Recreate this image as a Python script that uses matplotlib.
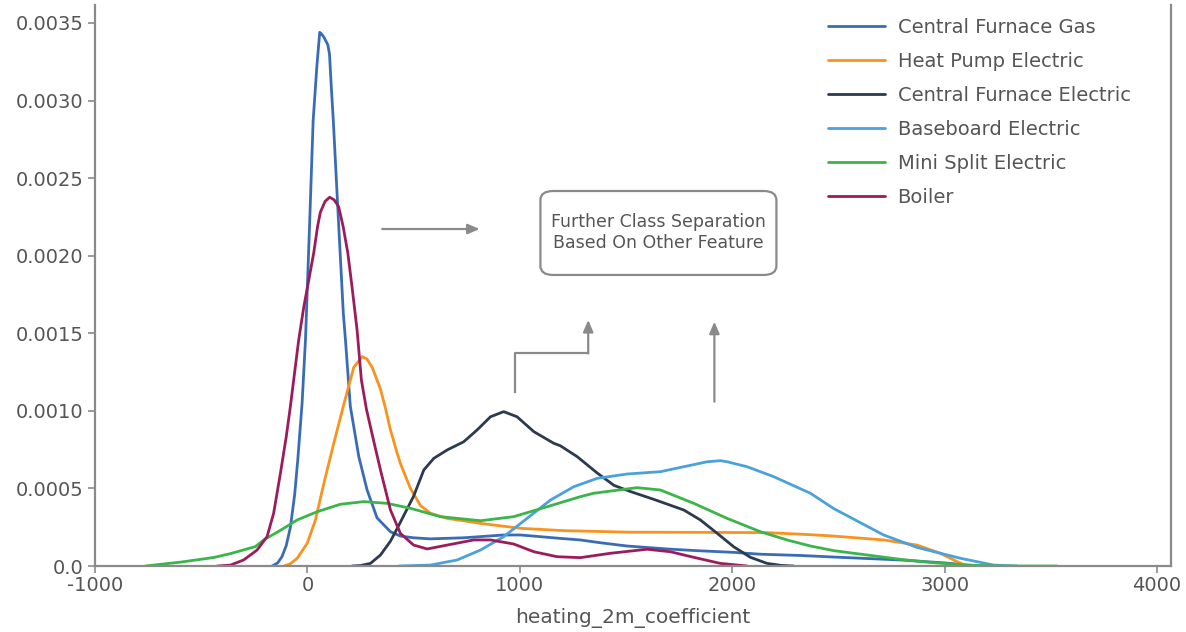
import matplotlib
matplotlib.use("Agg")
from matplotlib import pyplot as plt
from matplotlib.patches import FancyBboxPatch
import numpy as np

# curves (x, density in units of 1e-4)
gas_x = [-166, -140, -120, -100, -80, -60, -45, -25, -9, 11, 27, 45, 58, 66, 77, 96, 104, 112, 122, 146,
         169, 179, 202, 242, 281, 328, 391, 438, 500, 579, 736, 924, 1003, 1097, 1191, 1285, 1379, 1505,
         1693, 1819, 2006, 2133, 2321, 2476, 2792, 3000, 3106, 3183]
gas_y = [0.0, 0.2, 0.6, 1.3, 2.5, 4.6, 6.9, 10.5, 14.6, 22.3, 28.7, 32.3, 34.4, 34.3, 34.1, 33.6, 33.0,
         31.0, 28.7, 22.3, 16.3, 14.6, 10.3, 7.05, 4.9, 3.1, 2.21, 1.93, 1.82, 1.75, 1.82, 2.0, 2.0, 1.89,
         1.78, 1.68, 1.5, 1.29, 1.1, 1.0, 0.88, 0.76, 0.68, 0.58, 0.39, 0.2, 0.06, 0.0]

hp_x = [-110, -80, -48, -1, 38, 77, 124, 171, 218, 258, 280, 305, 344, 367, 391, 422, 438, 485, 532,
        579, 658, 815, 1003, 1207, 1521, 1850, 2164, 2368, 2478, 2713, 2870, 2980, 3059, 3106]
hp_y = [0.0, 0.15, 0.5, 1.46, 2.97, 5.3, 7.9, 10.4, 12.8, 13.5, 13.35, 12.8, 11.4, 10.2, 8.77, 7.3,
        6.6, 5.0, 3.9, 3.4, 3.07, 2.75, 2.43, 2.28, 2.18, 2.17, 2.15, 2.02, 1.93, 1.68, 1.35, 0.82, 0.28, 0.0]

cfe_x = [210, 250, 297, 344, 391, 422, 500, 548, 595, 658, 736, 799, 862, 924, 987, 1066, 1160, 1191,
         1270, 1364, 1443, 1521, 1630, 1772, 1850, 1929, 2007, 2086, 2164, 2230, 2289]
cfe_y = [0.0, 0.03, 0.17, 0.71, 1.6, 2.4, 4.5, 6.19, 6.94, 7.48, 8.01, 8.77, 9.62, 9.95, 9.62, 8.66,
         7.91, 7.75, 7.05, 6.0, 5.2, 4.8, 4.3, 3.61, 2.97, 2.11, 1.24, 0.56, 0.17, 0.04, 0.0]

base_x = [430, 579, 705, 815, 924, 1034, 1144, 1254, 1364, 1505, 1662, 1772, 1882, 1944, 1976, 2070,
          2195, 2368, 2478, 2713, 2870, 3074, 3231, 3341]
base_y = [0.0, 0.06, 0.39, 1.03, 1.89, 3.07, 4.25, 5.11, 5.65, 5.93, 6.08, 6.4, 6.72, 6.79, 6.72, 6.4,
          5.76, 4.69, 3.7, 2.0, 1.2, 0.5, 0.06, 0.0]

mini_x = [-763, -598, -441, -362, -284, -245, -206, -127, -48, 46, 155, 265, 375, 485, 626, 815, 971,
          1128, 1285, 1348, 1552, 1662, 1819, 1976, 2133, 2258, 2368, 2478, 2635, 2792, 2949, 3106, 3263, 3530]
mini_y = [0.0, 0.25, 0.55, 0.8, 1.1, 1.25, 1.68, 2.3, 2.97, 3.5, 3.98, 4.15, 4.04, 3.72, 3.18, 2.92,
          3.18, 3.82, 4.47, 4.69, 5.05, 4.9, 4.04, 3.07, 2.21, 1.68, 1.29, 0.99, 0.71, 0.43, 0.21, 0.06,
          0.0, 0.0]

boil_x = [-425, -362, -300, -237, -190, -159, -127, -100, -80, -60, -41, -17, 6, 30, 48, 61, 83, 105,
          126, 147, 168, 190, 210, 234, 254, 278, 311, 344, 391, 438, 500, 564, 658, 783, 862, 971, 1066,
          1176, 1285, 1426, 1599, 1709, 1819, 1944, 2070]
boil_y = [0.0, 0.06, 0.39, 1.03, 1.89, 3.4, 5.98, 8.3, 10.3, 12.5, 14.57, 16.7, 18.4, 20.2, 21.9,
          22.8, 23.5, 23.77, 23.6, 23.16, 21.9, 20.2, 18.0, 15.2, 12.0, 10.1, 8.12, 6.19, 3.61, 2.1, 1.35,
          1.1, 1.35, 1.68, 1.68, 1.42, 0.92, 0.6, 0.54, 0.82, 1.08, 0.92, 0.56, 0.17, 0.0]

series = [
    ("Central Furnace Gas", gas_x, gas_y, "#3a6cb6"),
    ("Heat Pump Electric", hp_x, hp_y, "#f7931e"),
    ("Central Furnace Electric", cfe_x, cfe_y, "#2c3a50"),
    ("Baseboard Electric", base_x, base_y, "#4aa2dc"),
    ("Mini Split Electric", mini_x, mini_y, "#3bb54a"),
    ("Boiler", boil_x, boil_y, "#9c1c5b"),
]

x_ticks = [-1000, 0, 1000, 2000, 3000, 4000]
y_ticks = [0.0, 0.0005, 0.0010, 0.0015, 0.0020, 0.0025, 0.0030, 0.0035]
y_labels = ["0.0", "0.0005", "0.0010", "0.0015", "0.0020", "0.0025", "0.0030", "0.0035"]

grey = "#8a8a8a"
txt = "#555555"
plt.rcParams["font.family"] = ["DejaVu Sans"]

fig = plt.figure(figsize=(11.86, 6.32), dpi=100)
ax = fig.add_axes([0.0801, 0.1044, 0.9073, 0.8877])

for name, xs, ys, c in series:
    ax.plot(xs, np.array(ys) * 1e-4, color=c, lw=2.0, label=name,
            solid_capstyle="round", solid_joinstyle="round")

ax.set_xlim(-1000, 4066)
ax.set_ylim(0, 0.003616)
ax.set_xticks(x_ticks)
ax.set_xticklabels([str(v) for v in x_ticks])
ax.set_yticks(y_ticks)
ax.set_yticklabels(y_labels)
ax.tick_params(colors=grey, labelcolor=txt, labelsize=14, length=5, width=1.2)
ax.tick_params(axis="x", pad=2.5)
ax.set_xlabel("heating_2m_coefficient", fontsize=14.5, color=txt, labelpad=9)

ax.spines["top"].set_visible(False)
for s in ["left", "bottom", "right"]:
    ax.spines[s].set_color(grey)
    ax.spines[s].set_linewidth(1.6)

leg = ax.legend(loc="upper left", bbox_to_anchor=(0.67, 0.998), frameon=False, fontsize=14,
                handlelength=2.95, handletextpad=0.65, labelspacing=0.77, borderaxespad=0.2)
for t in leg.get_texts():
    t.set_color(txt)

# annotations
arrow_kw = dict(arrowstyle="-|>,head_length=0.7,head_width=0.3", color=grey, lw=1.6, shrinkA=0, shrinkB=0)
ax.annotate("", xy=(811, 0.002172), xytext=(352, 0.002172), arrowprops=arrow_kw)
ax.plot([979, 979, 1322], [0.001123, 0.001371, 0.001371], color=grey, lw=1.6)
ax.annotate("", xy=(1322, 0.001586), xytext=(1322, 0.00137), arrowprops=arrow_kw)
ax.annotate("", xy=(1916, 0.001575), xytext=(1916, 0.001059), arrowprops=arrow_kw)

box = FancyBboxPatch((1097, 0.001876), 1111, 0.000541,
                     boxstyle="round,pad=0,rounding_size=60",
                     mutation_aspect=0.000541 / 1111 * 2.0,
                     fc="white", ec=grey, lw=1.6)
ax.add_patch(box)
ax.text(1653, 0.00215, "Further Class Separation\nBased On Other Feature", ha="center", va="center",
        fontsize=12.5, color=txt, linespacing=1.2)

fig.savefig("out.png", dpi=100)
